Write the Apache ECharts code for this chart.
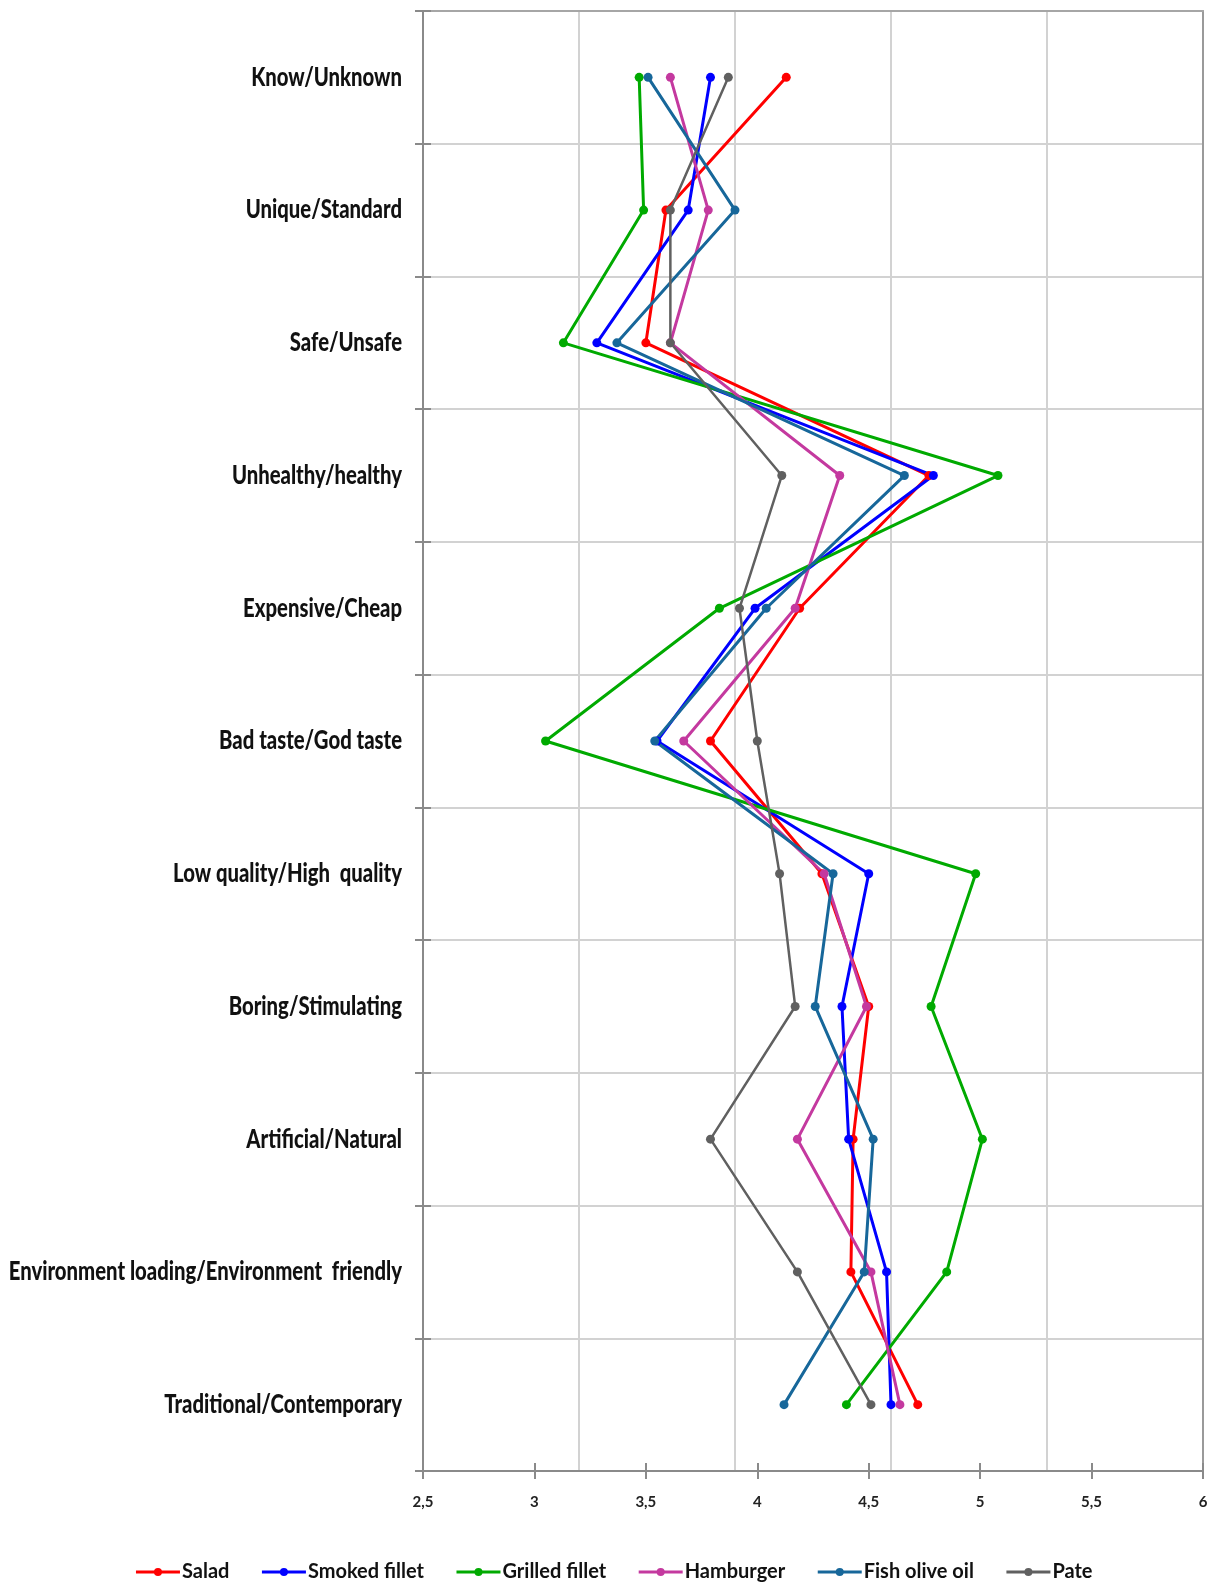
<!DOCTYPE html>
<html>
<head>
<meta charset="utf-8">
<title>Semantic differential profiles</title>
<script src="https://cdn.jsdelivr.net/npm/echarts@6/dist/echarts.min.js"></script>
<style>
  html, body { margin: 0; padding: 0; background: #ffffff; }
  #chart { width: 1227px; height: 1591px; }
</style>
</head>
<body>
<div id="chart"></div>
<script>
// Attribute pairs, top to bottom
const categories = [
  'Know/Unknown',
  'Unique/Standard',
  'Safe/Unsafe',
  'Unhealthy/healthy',
  'Expensive/Cheap',
  'Bad taste/God taste',
  'Low quality/High  quality',
  'Boring/Stimulating',
  'Artificial/Natural',
  'Environment loading/Environment  friendly',
  'Traditional/Contemporary'
];

// Mean scores per product
const salad         = [4.13, 3.59, 3.50, 4.77, 4.19, 3.79, 4.29, 4.50, 4.43, 4.42, 4.72];
const smokedFillet  = [3.79, 3.69, 3.28, 4.79, 3.99, 3.55, 4.50, 4.38, 4.41, 4.58, 4.60];
const grilledFillet = [3.47, 3.49, 3.13, 5.08, 3.83, 3.05, 4.98, 4.78, 5.01, 4.85, 4.40];
const hamburger     = [3.61, 3.78, 3.61, 4.37, 4.17, 3.67, 4.30, 4.49, 4.18, 4.51, 4.64];
const fishOliveOil  = [3.51, 3.90, 3.37, 4.66, 4.04, 3.54, 4.34, 4.26, 4.52, 4.48, 4.12];
const pate          = [3.87, 3.61, 3.61, 4.11, 3.92, 4.00, 4.10, 4.17, 3.79, 4.18, 4.51];

// Score axis ticks
const xTicks = [2.5, 3, 3.5, 4, 4.5, 5, 5.5, 6];

const seriesDefs = [
  { name: 'Salad',          data: salad,         color: '#ff0000', width: 3 },
  { name: 'Smoked fillet',  data: smokedFillet,  color: '#0000ff', width: 3 },
  { name: 'Grilled fillet', data: grilledFillet, color: '#00aa00', width: 3 },
  { name: 'Hamburger',      data: hamburger,     color: '#c4399f', width: 3 },
  { name: 'Fish olive oil', data: fishOliveOil,  color: '#17679a', width: 3 },
  { name: 'Pate',           data: pate,          color: '#606060', width: 2.5 }
];

const labelFont = "Lato, Roboto, 'Liberation Sans', sans-serif";
const axisGray = '#8a8a8a';
const gridGray = '#d2d2d2';

const chart = echarts.init(document.getElementById('chart'), null, { renderer: 'canvas' });

chart.setOption({
  backgroundColor: '#ffffff',
  animation: false,
  grid: { left: 423, right: 24, top: 11, bottom: 120, containLabel: false, outerBoundsMode: 'none' },
  legend: {
    bottom: 4,
    left: 'center',
    itemWidth: 44,
    itemHeight: 10,
    itemGap: 31,
    lineStyle: { width: 3 },
    textStyle: { fontFamily: labelFont, fontWeight: 'bold', fontSize: 20, color: '#111111', padding: [0, 0, 0, -3] },
    data: seriesDefs.map(s => s.name)
  },
  xAxis: [
    {
      type: 'value', position: 'bottom',
      min: xTicks[0], max: xTicks[xTicks.length - 1], interval: 0.5,
      axisLine: { show: true, lineStyle: { color: axisGray, width: 2 } },
      axisTick: { show: true, inside: false, length: 8, lineStyle: { color: axisGray, width: 2 } },
      axisLabel: {
        margin: 24, fontFamily: labelFont, fontWeight: 'bold', fontSize: 15, color: '#222222',
        formatter: v => String(v).replace('.', ',')
      },
      splitLine: { show: false }
    },
    {
      type: 'value', position: 'bottom',
      min: xTicks[0], max: xTicks[xTicks.length - 1], interval: 0.5,
      axisLine: { show: false },
      axisTick: { show: true, inside: true, length: 8, lineStyle: { color: axisGray, width: 2 } },
      axisLabel: { show: false },
      splitLine: { show: false }
    },
    {
      // gridline frame: five equal vertical divisions plus the top border
      type: 'value', position: 'top',
      min: 0, max: 5, interval: 1,
      axisLine: { show: true, lineStyle: { color: '#a6a6a6', width: 2 } },
      axisTick: { show: false },
      axisLabel: { show: false },
      splitLine: { show: true, lineStyle: { color: gridGray, width: 2 } }
    }
  ],
  yAxis: [
    {
      type: 'category', position: 'left', inverse: true, boundaryGap: true,
      data: categories,
      axisLine: { show: true, lineStyle: { color: axisGray, width: 2 } },
      axisTick: { show: true, inside: false, length: 8, lineStyle: { color: axisGray, width: 2 } },
      // names are drawn below as horizontally condensed text
      axisLabel: { show: false },
      splitLine: { show: true, lineStyle: { color: gridGray, width: 2 } }
    },
    {
      type: 'category', position: 'left', inverse: true, boundaryGap: true,
      data: categories,
      axisLine: { show: false },
      axisTick: { show: true, inside: true, length: 8, lineStyle: { color: axisGray, width: 2 } },
      axisLabel: { show: false },
      splitLine: { show: false }
    },
    {
      type: 'category', position: 'right', inverse: true, boundaryGap: true,
      data: categories,
      axisLine: { show: true, lineStyle: { color: '#9a9a9a', width: 2 } },
      axisTick: { show: false },
      axisLabel: { show: false },
      splitLine: { show: false }
    }
  ],
  series: seriesDefs.map(s => ({
    name: s.name,
    type: 'line',
    xAxisIndex: 0,
    yAxisIndex: 0,
    data: s.data.map((v, i) => [v, categories[i]]),
    symbol: 'circle',
    symbolSize: 9,
    showSymbol: true,
    lineStyle: { color: s.color, width: s.width },
    itemStyle: { color: s.color },
    emphasis: { disabled: true }
  }))
});

// Condensed category names, right-aligned against the value axis
const axisX = chart.convertToPixel({ xAxisIndex: 0 }, xTicks[0]);
chart.setOption({
  graphic: categories.map(c => ({
    type: 'text',
    x: axisX - 21,
    y: chart.convertToPixel({ yAxisIndex: 0 }, c),
    scaleX: 0.78,
    silent: true,
    style: {
      text: c,
      x: 0, y: 0,
      align: 'right',
      verticalAlign: 'middle',
      font: "900 26px " + labelFont,
      fill: '#111111'
    }
  }))
});
</script>
</body>
</html>
